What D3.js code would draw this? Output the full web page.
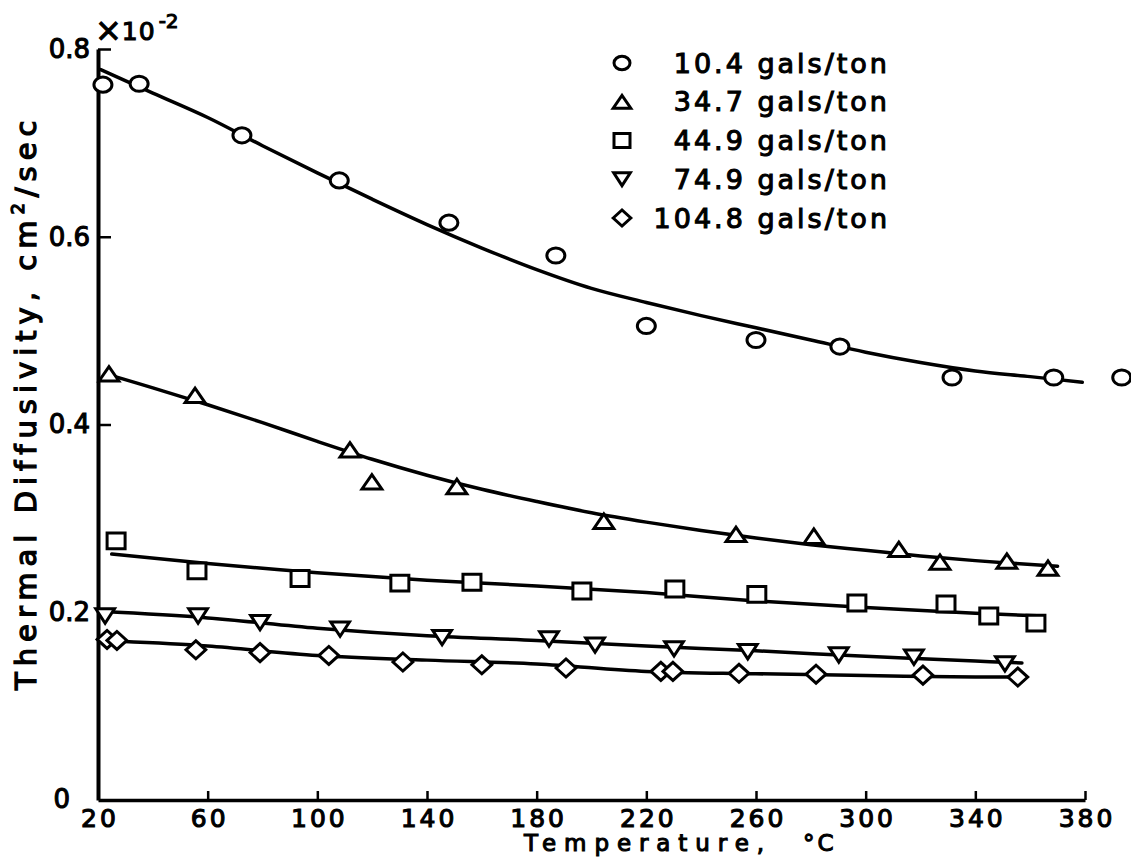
<!DOCTYPE html>
<html><head><meta charset="utf-8">
<script src="https://cdn.jsdelivr.net/npm/d3@7"></script>
<style>
html,body{margin:0;padding:0;background:#fff;}
svg{display:block;}
text{font-family:"DejaVu Sans",sans-serif;fill:#000;stroke:#000;stroke-width:1.1px;}
</style></head>
<body>
<svg id="chart" width="1131" height="861"></svg>
<script>
// ---- data (temperature °C, thermal diffusivity ×10^-2 cm²/sec) ----
const seriesNames = ["10.4 gals/ton","34.7 gals/ton","44.9 gals/ton","74.9 gals/ton","104.8 gals/ton"];
const xTicks = [20,60,100,140,180,220,260,300,340,380];
const yTicks = [0,0.2,0.4,0.6,0.8];
const yTickLabels = ["0","0.2","0.4","0.6","0.8"];

const circleX = [21.8,35,72.5,108,148,187,220,260,290.6,331.5,368.6,393.4];
const circleY = [0.762,0.763,0.708,0.66,0.615,0.58,0.505,0.49,0.483,0.45,0.45,0.45];
const triX = [24,55.4,111.9,119.9,150.9,204.5,252.7,281.1,312.1,327.1,351.5,366.5];
const triY = [0.454,0.431,0.373,0.339,0.334,0.297,0.283,0.281,0.267,0.2535,0.2546,0.247];
const sqX = [26.6,56.1,93.7,130.1,156.4,196.5,230.4,260.3,296.8,329.3,344.9,362.1];
const sqY = [0.276,0.244,0.236,0.231,0.232,0.2226,0.2248,0.219,0.2099,0.2088,0.196,0.1885];
const dtriX = [22.6,56.5,79.1,108.3,145.5,184.5,201.3,230.1,257,290.2,317.6,350.8];
const dtriY = [0.196,0.196,0.189,0.182,0.173,0.1715,0.165,0.161,0.158,0.1545,0.152,0.145];
const diaX = [23.3,26.9,55.7,79.1,104.2,131.2,160,190.7,225.3,229.7,253.8,281.9,320.9,355.5];
const diaY = [0.171,0.170,0.160,0.157,0.154,0.147,0.144,0.1406,0.137,0.137,0.135,0.134,0.133,0.131];

// fitted curves as drawn
const circleCurveX = [21,40,60,80,100,120,140,160,180,200,220,240,260,280,300,320,340,360,379];
const circleCurveY = [0.778,0.753,0.727,0.697,0.668,0.640,0.613,0.588,0.565,0.545,0.530,0.516,0.503,0.490,0.477,0.466,0.457,0.451,0.445];
const triCurveX = [25,40,60,80,100,120,140,160,180,200,220,240,260,280,300,320,340,370];
const triCurveY = [0.452,0.439,0.421,0.402,0.382,0.363,0.346,0.331,0.318,0.306,0.296,0.287,0.279,0.272,0.266,0.260,0.255,0.249];
const sqCurveX = [25,60,100,140,180,220,260,300,340,365];
const sqCurveY = [0.262,0.252,0.242,0.234,0.228,0.221,0.212,0.205,0.199,0.196];
const dtriCurveX = [20.7,60,100,140,180,220,260,300,340,357];
const dtriCurveY = [0.201,0.194,0.183,0.175,0.170,0.164,0.159,0.153,0.148,0.146];
const diaCurveX = [28,60,100,140,180,220,260,300,340,355];
const diaCurveY = [0.169,0.164,0.154,0.149,0.145,0.137,0.1345,0.1325,0.131,0.131];

// ---- drawing ----
const svg = d3.select("#chart");
const x = d3.scaleLinear().domain([20,380]).range([98,1085]);
const y = d3.scaleLinear().domain([0,0.8]).range([800,49]);

const zip = (a,b)=>a.map((v,i)=>[v,b[i]]);

// symbol paths (centered at 0,0)
const shapes = {
  circle: (s)=>{const rx=s*0.5, ry=s*0.42; return `M${-rx},0A${rx},${ry} 0 1,0 ${rx},0A${rx},${ry} 0 1,0 ${-rx},0Z`;},
  tri: (s)=>{const w=s*0.55,h=s*0.4; return `M${-w},${h}L${w},${h}L0,${-h}Z`;},
  square: (s)=>{const w=s*0.5,h=s*0.44; return `M${-w},${-h}L${w},${-h}L${w},${h}L${-w},${h}Z`;},
  dtri: (s)=>{const w=s*0.52,h=s*0.4; return `M${-w},${-h}L${w},${-h}L0,${h}Z`;},
  diamond: (s)=>{const w=s*0.55,h=s*0.5; return `M${-w},0L0,${-h}L${w},0L0,${h}Z`;}
};

const series = [
  {name:seriesNames[0], shape:"circle", pts:zip(circleX,circleY), curve:zip(circleCurveX,circleCurveY)},
  {name:seriesNames[1], shape:"tri", pts:zip(triX,triY), curve:zip(triCurveX,triCurveY)},
  {name:seriesNames[2], shape:"square", pts:zip(sqX,sqY), curve:zip(sqCurveX,sqCurveY)},
  {name:seriesNames[3], shape:"dtri", pts:zip(dtriX,dtriY), curve:zip(dtriCurveX,dtriCurveY)},
  {name:seriesNames[4], shape:"diamond", pts:zip(diaX,diaY), curve:zip(diaCurveX,diaCurveY)}
];

// axes
const xAxis = d3.axisBottom(x).tickValues(xTicks).tickSizeInner(-9).tickSizeOuter(0).tickPadding(9).tickFormat(d3.format("d"));
const gx = svg.append("g").attr("transform",`translate(0,${y(0)})`).call(xAxis);
gx.select(".domain").attr("stroke","#000").attr("stroke-width",3.5);
gx.selectAll(".tick line").attr("stroke","#000").attr("stroke-width",2.5);
gx.selectAll(".tick text").attr("font-size",25).attr("letter-spacing","3px").attr("dx","1.5px")
  .style("font-family","DejaVu Sans").attr("fill","#000");

const yAxis = d3.axisLeft(y).tickValues(yTicks).tickSizeInner(-13).tickSizeOuter(0).tickPadding(8)
  .tickFormat((d,i)=>yTickLabels[i]);
const gy = svg.append("g").attr("transform",`translate(${x(20)},0)`).call(yAxis);
gy.select(".domain").attr("stroke","#000").attr("stroke-width",4);
gy.selectAll(".tick line").attr("stroke","#000").attr("stroke-width",2.5);
gy.selectAll(".tick text").attr("font-size",26).style("font-family","DejaVu Sans").attr("fill","#000");
gy.selectAll(".tick").filter(d=>d===0).select("line").remove();
gy.selectAll(".tick").filter(d=>d===0).select("text").attr("x",-28).attr("dy","0.3em");

// multiplier
const mult = svg.append("text").attr("x",95).attr("y",40).attr("font-size",25);
mult.append("tspan").attr("font-size",32).attr("dy","1").text("×");
mult.append("tspan").attr("dy","-1").attr("letter-spacing","1px").text("10");
mult.append("tspan").attr("font-size",20).attr("dy","-12").attr("dx","3").text("-2");

// curves
const line = d3.line().x(d=>x(d[0])).y(d=>y(d[1])).curve(d3.curveCatmullRom.alpha(0.5));
svg.append("g").selectAll("path").data(series).join("path")
  .attr("d",d=>line(d.curve)).attr("fill","none").attr("stroke","#000").attr("stroke-width",3.5)
  .attr("stroke-linecap","round");

// markers
series.forEach(s=>{
  svg.append("g").selectAll("path").data(s.pts).join("path")
    .attr("d",shapes[s.shape](18))
    .attr("transform",d=>`translate(${x(d[0])},${y(d[1])})`)
    .attr("fill","#fff").attr("stroke","#000").attr("stroke-width",3);
});

// legend
const legRowY = d3.scaleLinear().domain([0,4]).range([63,218]);
const leg = svg.append("g");
series.forEach((s,i)=>{
  leg.append("path").attr("d",shapes[s.shape](16)).attr("transform",`translate(622,${legRowY(i)})`)
    .attr("fill","#fff").attr("stroke","#000").attr("stroke-width",3);
  leg.append("text").attr("x",890).attr("y",legRowY(i)).attr("dy","0.36em").attr("text-anchor","end")
    .attr("font-size",27).attr("letter-spacing","3px").text(s.name);
});

// axis titles
svg.append("text").attr("x",524).attr("y",851).attr("font-size",23).attr("textLength",240)
  .attr("lengthAdjust","spacing").text("Temperature,");
svg.append("text").attr("x",803).attr("y",851).attr("font-size",23).attr("letter-spacing","3px").text("°C");

const yt = svg.append("text").attr("transform","translate(36,690) rotate(-90)").attr("font-size",29)
  .attr("letter-spacing","6px").style("stroke-width","1.3px");
yt.append("tspan").text("Thermal Diffusivity,  cm");
yt.append("tspan").attr("font-size",18).attr("dy","-12").text("2");
yt.append("tspan").attr("dy","12").text("/sec");
</script>
</body></html>
